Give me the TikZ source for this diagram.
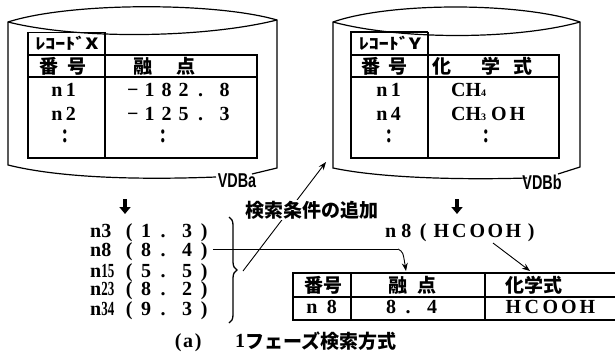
\documentclass[tikz,border=0pt]{standalone}
\usepackage{fontspec}
\usetikzlibrary{arrows.meta,decorations.pathreplacing}
\setmainfont{Liberation Serif}
\newfontfamily\sr{Liberation Serif}
\newfontfamily\jp{Noto Sans CJK JP}
\newfontfamily\sn{Liberation Sans}
% fixed-pitch cells: \fws[half gap]{cell width}{tokens}, "|" = half gap
\newlength\cellw \newlength\halfw
\let\fwend\relax
\newcommand\fws[3][7pt]{\setlength\cellw{#2}\setlength\halfw{#1}\fwsi#3\fwend}
\def\fwsi#1{\ifx#1\fwend\else\ifx#1|\hspace*{\halfw}\else\makebox[\cellw]{#1}\fi\expandafter\fwsi\fi}
\tikzset{
  cyl/.style={line width=1.2pt},
  tbl/.style={line width=1.9pt},
  thin/.style={line width=0.8pt},
  jt/.style={font=\jp\bfseries\fontsize{19}{19}\selectfont, inner sep=0pt},
  jl/.style={font=\jp\bfseries\fontsize{10}{10}\selectfont, inner sep=0pt},
  dt/.style={font=\sr\bfseries\fontsize{20}{20}\selectfont, inner sep=0pt},
  vdb/.style={font=\sn\bfseries\fontsize{20}{20}\selectfont, inner sep=0pt},
  arr/.style={line width=0.9pt, -{Stealth[length=8pt,width=6pt]}},
  bigarr/.style={line width=3.4pt, -{Triangle[length=7pt,width=11pt]}},
}
\begin{document}
\begin{tikzpicture}[x=1pt,y=-1pt]
\useasboundingbox (0,0) rectangle (615,361);

% ---------- left cylinder ----------
\draw[cyl] (216,177) .. controls (140,180) and (60,178) .. (8,165) -- (8,22)
  .. controls (70,2) and (215,2) .. (277,20) -- (277,168) -- (252,174);
\draw[cyl] (8,22) .. controls (80,40) and (205,38) .. (277,20);
\node[vdb] (vdba) at (237,181) {\scalebox{0.72}[1]{VDBa}};

% table X
\draw[thin] (28,32) -- (105,32);
\draw[tbl] (28,32) -- (28,158) -- (257,158) -- (257,55) -- (28,55);
\draw[tbl] (28,77) -- (257,77);
\draw[tbl] (105,32) -- (105,158);
\node[jl] (lx) at (67,43) {\scalebox{2.0}[1.55]{ﾚｺｰﾄﾞX}};
\node[jt,anchor=west] (hx1) at (39,66) {番\hspace{9pt}号};
\node[jt,anchor=west] (hx2) at (133,66) {融\hspace{24pt}点};
\node[dt,anchor=base] (x11) at (64,96) {\fws{14pt}{n1}};
\node[dt,anchor=base] (x21) at (64,120) {\fws{14pt}{n2}};
\node[dt] (x31) at (65,136) {\scalebox{1}[1.35]{:}};
\node[dt,anchor=base west] (x12) at (124,96) {\fws{17pt}{−182.|8}};
\node[dt,anchor=base west] (x22) at (124,120) {\fws{17pt}{−125.|3}};
\node[dt] (x32) at (163,136) {\scalebox{1}[1.35]{:}};

% ---------- right cylinder ----------
\draw[cyl] (527,178) .. controls (460,180) and (380,178) .. (333,168) -- (333,22)
  .. controls (390,2) and (520,2) .. (580,22) -- (580,167) -- (558,174);
\draw[cyl] (333,22) .. controls (400,40) and (515,40) .. (580,22);
\node[vdb] (vdbb) at (542,182) {\scalebox{0.72}[1]{VDBb}};

% table Y
\draw[tbl] (351,55) -- (351,32) -- (428,32);
\draw[tbl] (351,55) -- (351,158) -- (559,158) -- (559,55) -- (351,55);
\draw[tbl] (351,77) -- (559,77);
\draw[tbl] (428,32) -- (428,158);
\node[jl] (ly) at (390,43) {\scalebox{2.0}[1.55]{ﾚｺｰﾄﾞY}};
\node[jt,anchor=west] (hy1) at (361,66) {番\hspace{8pt}号};
\node[jt,anchor=west] (hy2) at (432,66) {化\hspace{30pt}学\hspace{13pt}式};
\node[dt,anchor=base] (y11) at (389,96) {\fws{14pt}{n1}};
\node[dt,anchor=base] (y21) at (389,120) {\fws{14pt}{n4}};
\node[dt] (y31) at (389,136) {\scalebox{1}[1.35]{:}};
\node[dt,anchor=base west] (y12) at (451,96) {CH{\fontsize{10}{10}\selectfont 4}};
\node[dt,anchor=base west] (y22) at (451,120) {CH{\fontsize{10}{10}\selectfont 3}\hspace{5pt}O\hspace{3pt}H};
\node[dt] (y32) at (486,136) {\scalebox{1}[1.35]{:}};

% ---------- down arrows ----------
\coordinate (la1) at (125,199);
\coordinate (la2) at (125,214);
\draw[bigarr] (la1) -- (la2);
\coordinate (ra1) at (457,199);
\coordinate (ra2) at (457,214);
\draw[bigarr] (ra1) -- (ra2);

% ---------- list ----------
\node[dt,anchor=base west] (n3a) at (90,237) {n3};
\node[dt,anchor=base west] (n3) at (120.5,237) {\fws{17pt}{(1.|3)}};
\node[dt,anchor=base west] (n8a) at (90,256) {n8};
\node[dt,anchor=base west] (n8) at (120.5,256) {\fws{17pt}{(8.|4)}};
\node[dt,anchor=base west] (n15a) at (90,277) {n\scalebox{0.65}[1]{15}};
\node[dt,anchor=base west] (n15) at (120.5,277) {\fws{17pt}{(5.|5)}};
\node[dt,anchor=base west] (n23a) at (90,295) {n\scalebox{0.65}[1]{23}};
\node[dt,anchor=base west] (n23) at (120.5,295) {\fws{17pt}{(8.|2)}};
\node[dt,anchor=base west] (n34a) at (90,315) {n\scalebox{0.65}[1]{34}};
\node[dt,anchor=base west] (n34) at (120.5,315) {\fws{17pt}{(9.|3)}};

% brace
\draw[line width=1.3pt, decorate, decoration={brace, amplitude=8pt}] (229,217) -- (229,323);
\coordinate (tip) at (243,271);

% ---------- right result ----------
\node[dt,anchor=base west] (res) at (385,237) {n\hspace{5pt}8\hspace{3pt}\fws{18pt}{(HCOOH)}};

% ---------- bottom table ----------
\draw[tbl] (615,273) -- (293,273) -- (293,320) -- (615,320);
\draw[tbl] (293,297) -- (615,297);
\draw[tbl] (351,273) -- (351,320);
\draw[tbl] (485,273) -- (485,320);
\node[jt,anchor=west] (b11) at (304,285) {番号};
\node[jt,anchor=west] (b12) at (388,285) {融\hspace{10pt}点};
\node[jt,anchor=west] (b13) at (505,285) {化学式};
\node[dt,anchor=base] (b21) at (322,313) {\fws{20pt}{n8}};
\node[dt,anchor=base west] (b22) at (382.5,313) {\fws{17pt}{8.|4}};
\node[dt,anchor=base west] (b23) at (504,313) {\fws{18.5pt}{HCOOH}};

% ---------- connectors ----------
\coordinate (cx) at (398,249);
\coordinate (t1) at (406,271);
\draw[line width=1pt] (n8.east |- cx) -- (cx);
\draw[arr] (cx) .. controls (403,252) .. (t1);
\coordinate (rs) at (493,243);
\coordinate (t2) at (530,271);
\draw[arr] (rs) -- (t2);
\coordinate (cyb) at (326,162);
\draw[arr] (tip) -- (cyb);
\node[jt, fill=white, inner sep=1pt] (cond) at (311.5,210) {検索条件の追加};

% caption
\node[dt,anchor=base west] (capa) at (173,347) {\fws{10pt}{(a)}};
\node[dt,anchor=base west] (cap1) at (235,347) {1};
\node[jt,anchor=west] (cap2) at (245,341) {フェーズ検索方式};
\end{tikzpicture}
\end{document}
